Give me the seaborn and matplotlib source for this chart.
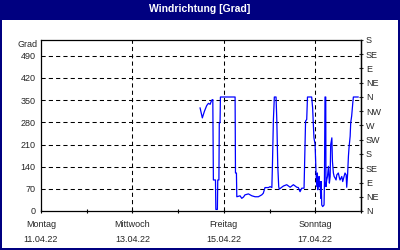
import matplotlib
matplotlib.use("Agg")
import matplotlib.pyplot as plt
import seaborn as sns
import pandas as pd
from matplotlib.patches import Rectangle
from matplotlib.ticker import FixedLocator

# ---- data (hours since Montag 11.04.22 00:00, wind direction in degrees) ----
hours = [83.5, 84.7, 85.8, 87.0, 87.9, 88.8, 89.6, 90.2, 90.5, 91.6, 91.8, 92.6, 92.8, 93.4,
         93.6, 94.0, 94.2, 101.9, 102.1, 102.6, 102.8, 104.5, 105.4, 106.3, 107.1, 108.9,
         110.7, 112.4, 114.1, 115.9, 116.7, 117.6, 119.4, 120.3, 121.2, 121.5, 122.0, 122.5,
         123.4, 123.8, 124.3, 124.8, 125.1, 126.4, 127.3, 129.0, 130.8, 132.5, 134.3, 135.1,
         136.0, 136.9, 138.1, 138.9, 139.5, 139.9, 142.1, 142.6, 142.9, 143.3, 143.9, 144.4,
         144.8, 145.1, 145.3, 145.6, 146.0, 146.2, 146.5, 146.9, 147.1, 147.4, 147.9, 148.6,
         148.8, 149.1, 149.5, 149.6, 150.0, 150.4, 150.9, 151.4, 151.8, 152.1, 152.7, 153.0,
         153.5, 153.9, 154.4, 154.9, 155.3, 156.1, 156.7, 157.0, 157.9, 158.4, 159.1, 159.6,
         160.2, 160.5, 161.0, 161.4, 161.7, 162.3, 162.6, 163.1, 163.7, 164.0, 166.6]
degrees = [326, 294, 315, 333, 340, 337, 350, 352, 98, 98, 5, 5, 98, 98,
           279, 279, 360, 360, 120, 120, 45, 48, 40, 44, 51, 54,
           48, 45, 45, 51, 56, 74, 74, 77, 74, 143, 287, 360,
           360, 287, 143, 77, 69, 75, 79, 83, 75, 83, 75, 74,
           61, 72, 72, 284, 289, 360, 360, 326, 284, 231, 210, 120,
           77, 120, 67, 98, 109, 77, 93, 40, 93, 19, 14, 19,
           88, 360, 360, 77, 98, 109, 141, 88, 109, 210, 231, 157,
           120, 109, 104, 98, 114, 120, 104, 98, 109, 93, 109, 120,
           114, 75, 120, 173, 199, 236, 279, 300, 342, 360, 360]

x_major = [0, 48, 96, 144]
x_labels = ["Montag\n11.04.22", "Mittwoch\n13.04.22", "Freitag\n15.04.22", "Sonntag\n17.04.22"]
x_minor = [24, 72, 120, 168]
y_ticks = [0, 70, 140, 210, 280, 350, 420, 490]
dir_ticks = [0, 45, 90, 135, 180, 225, 270, 315, 360, 405, 450, 495, 540]
dir_labels = ["N", "NE", "E", "SE", "S", "SW", "W", "NW", "N", "NE", "E", "SE", "S"]
title = "Windrichtung [Grad]"
y_unit = "Grad"

df = pd.DataFrame({"Stunde": hours, "Grad": degrees})

sns.set_style("white")
plt.rcParams["font.family"] = ["Liberation Sans", "DejaVu Sans"]
FS = 6.5
NAVY = "#000080"

fig = plt.figure(figsize=(4, 2.5), dpi=100, facecolor="white")
ax = fig.add_axes([41 / 400, 39 / 250, 320 / 400, 171 / 250])
ax.set_facecolor("white")

sns.lineplot(data=df, x="Stunde", y="Grad", ax=ax, color="#0000FF", linewidth=0.9,
             estimator=None, sort=False)

ax.set_xlim(0, 168)
ax.set_ylim(0, 540)
ax.set_xlabel("")
ax.set_ylabel("")

# x axis ticks
ax.set_xticks(x_major)
ax.set_xticklabels(x_labels, fontsize=FS, linespacing=1.8)
ax.xaxis.set_minor_locator(FixedLocator(x_minor))
ax.tick_params(axis="x", which="both", direction="inout", length=3, width=0.8,
               color="black", pad=5, bottom=True)

# y axis ticks
ax.set_yticks(y_ticks)
ax.set_yticklabels([str(v) for v in y_ticks], fontsize=FS)
ax.tick_params(axis="y", which="both", length=0, pad=4, left=True)

# grid lines
for v in y_ticks[1:]:
    ax.axhline(v, color="black", lw=0.75, ls=(0, (4, 3)), zorder=0)
for v in x_major[1:]:
    ax.axvline(v, color="black", lw=0.75, ls=(0, (4, 3)), zorder=0)

for s in ax.spines.values():
    s.set_visible(True)
    s.set_color("black")
    s.set_linewidth(0.9)

# unit label
ax.text(-0.012, 1.0, y_unit, transform=ax.transAxes, ha="right", va="top", fontsize=FS)

# right axis with compass directions
ax2 = ax.twinx()
ax2.set_ylim(0, 540)
ax2.set_yticks(dir_ticks)
ax2.set_yticklabels(dir_labels, fontsize=FS)
ax2.tick_params(axis="y", direction="inout", length=3, width=0.8, pad=2, right=True)
for s in ax2.spines.values():
    s.set_visible(False)
ax2.spines["right"].set_visible(True)
ax2.spines["right"].set_color("black")
ax2.spines["right"].set_linewidth(0.9)

# title bar and frame
fig.patches.append(Rectangle((0, 1 - 20 / 250), 1, 20 / 250, transform=fig.transFigure,
                             facecolor=NAVY, edgecolor="none", zorder=0))
fig.text(0.5, 1 - 9.5 / 250, title, color="white", fontsize=7.5, fontweight="bold",
         ha="center", va="center")
fig.patches.append(Rectangle((0, 0), 1.5 / 400, 1, transform=fig.transFigure,
                             facecolor=NAVY, edgecolor="none"))
fig.patches.append(Rectangle((1 - 2 / 400, 0), 2 / 400, 1, transform=fig.transFigure,
                             facecolor=NAVY, edgecolor="none"))
fig.patches.append(Rectangle((0, 0), 1, 2 / 250, transform=fig.transFigure,
                             facecolor=NAVY, edgecolor="none"))

fig.savefig("out.png", dpi=100, facecolor=fig.get_facecolor())
